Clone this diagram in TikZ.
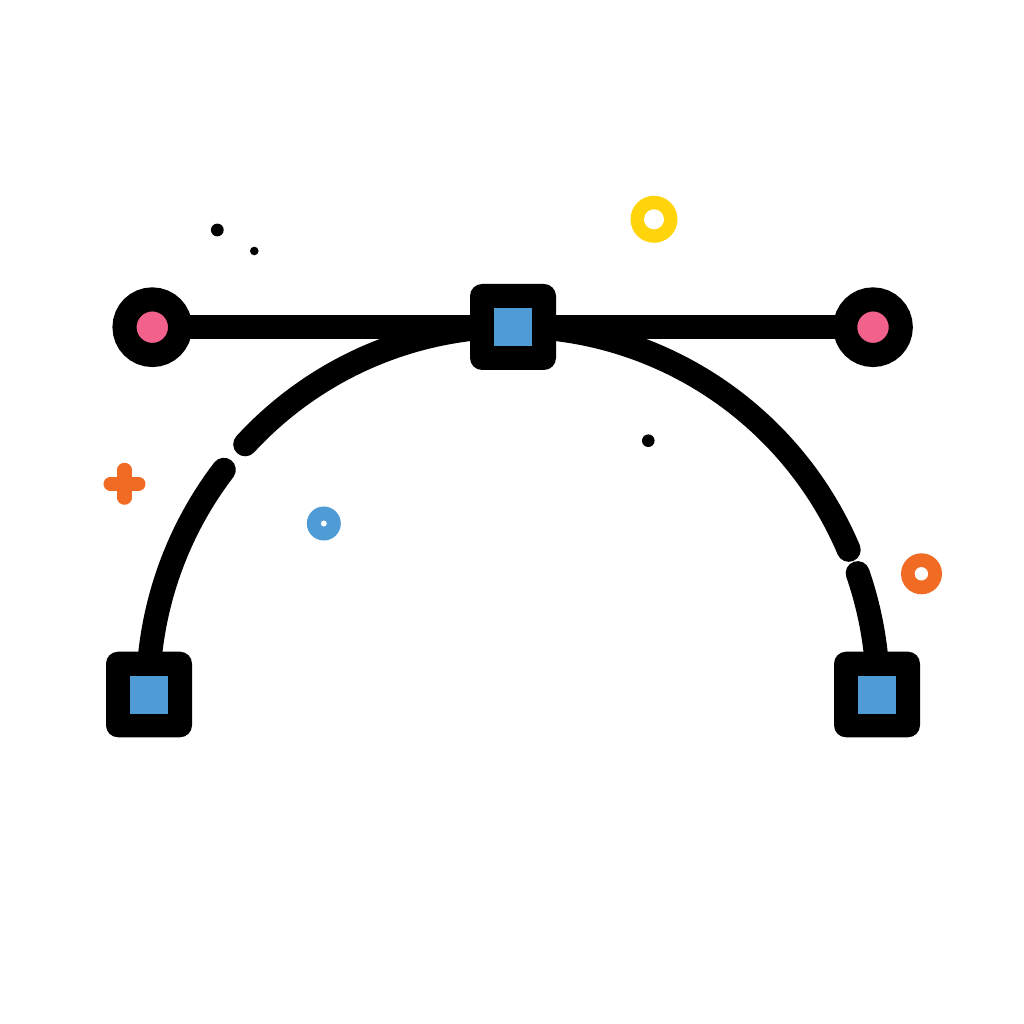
\documentclass[tikz,border=0pt]{standalone}
\definecolor{cblue}{HTML}{4F9BD5}
\definecolor{cpink}{HTML}{F2608C}
\definecolor{corange}{HTML}{F26B25}
\definecolor{cyellow}{HTML}{FFD40A}
\tikzset{
  px/.style={x=0.01cm,y=0.01cm},
  curveline/.style={line width=0.24cm,line cap=round,black},
  handlebar/.style={line width=0.24cm,black},
  anchorouter/.style={fill=black,rounded corners=0.12cm},
  anchorinner/.style={fill=cblue},
  handleend/.style={circle,draw=black,line width=0.24cm,fill=cpink,inner sep=0pt,minimum size=0.556cm}
}
\begin{document}
\begin{tikzpicture}[px]
\useasboundingbox (0,0) rectangle (1024,1024);
\fill[white] (0,0) rectangle (1024,1024);
% curve segments (centre 513,330; radii 365 and 367.5)
\draw[curveline] (513,330) ++(90:365 and 367.5) arc (90:137.2:365 and 367.5);
\draw[curveline] (513,330) ++(142.4:365 and 367.5) arc (142.4:175:365 and 367.5);
\draw[curveline] (513,330) ++(90:365 and 367.5) arc (90:23.1:365 and 367.5);
\draw[curveline] (513,330) ++(19.2:365 and 367.5) arc (19.2:5:365 and 367.5);
% handle bar
\draw[handlebar] (152.3,697) -- (873,697);
% handle ends
\node[handleend] at (152.3,696.8) {};
\node[handleend] at (873,696.8) {};
% anchor squares
\fill[anchorouter] (470,654) rectangle (556,740);
\fill[anchorinner] (494,677.5) rectangle (532,715.7);
\fill[anchorouter] (106,286.7) rectangle (192,372.3);
\fill[anchorinner] (130,310.3) rectangle (168,348.3);
\fill[anchorouter] (834,286.7) rectangle (920,372.3);
\fill[anchorinner] (858,310.3) rectangle (896,348.3);
% decorations
\fill[black] (217.3,794) circle (6.4);
\fill[black] (254.3,773) circle (4.3);
\fill[black] (648.3,583.3) circle (6.3);
\fill[cyellow] (654,804.7) circle (23.5);
\fill[white] (654,804.7) circle (10);
\fill[corange] (921.5,450.2) circle (20.5);
\fill[white] (921.4,450.2) circle (6.7);
\fill[cblue] (323.8,500.5) circle (17);
\fill[white] (323.8,500.5) circle (3);
\draw[corange,line width=0.14cm,line cap=round] (110.5,540.2) -- (138.5,540.2);
\draw[corange,line width=0.14cm,line cap=round] (124.5,526.2) -- (124.5,554.2);
\end{tikzpicture}
\end{document}
